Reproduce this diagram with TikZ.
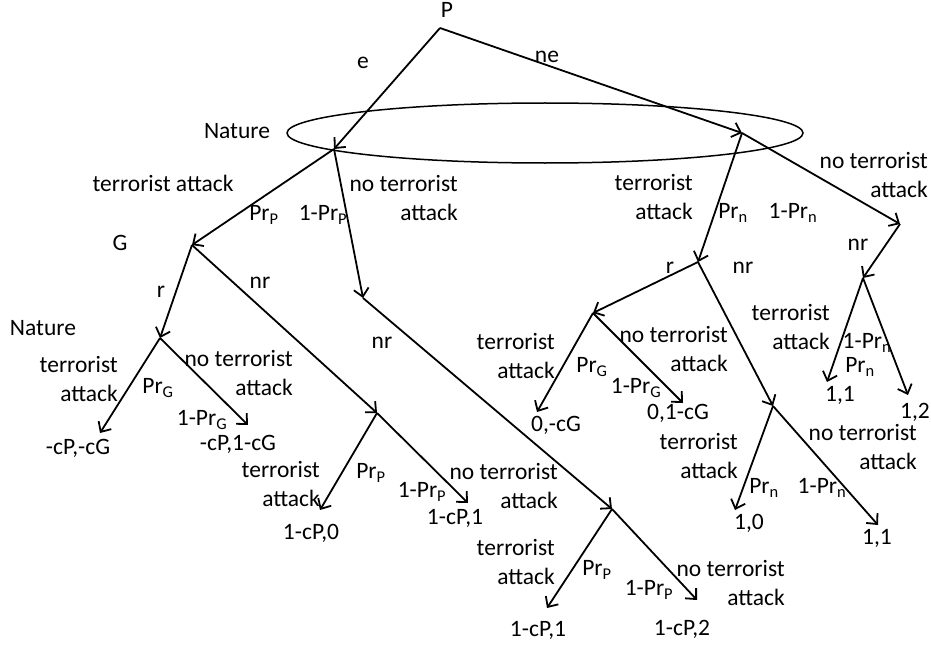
\documentclass[tikz,border=0pt]{standalone}
\usepackage{fontspec}
\setmainfont{Carlito}
\usetikzlibrary{arrows.meta,shapes.geometric}
\begin{document}
\begin{tikzpicture}[x=1pt,y=-1pt,
  edge/.style={line width=1.8pt,-{Straight Barb[length=8pt,width=15pt,line width=1.8pt]}},
  lbl/.style={inner sep=0pt,font=\fontsize{23.5}{28.5}\selectfont},
  lbltwo/.style={lbl,align=right,anchor=east},
  infoset/.style={draw,ellipse,line width=1.5pt,inner sep=0pt}]
\useasboundingbox (0,0) rectangle (931,650);
% information set
\node[infoset,minimum width=516pt,minimum height=60pt] (info) at (545,133) {};
% tree points
\coordinate (root) at (440,28);
\coordinate (nat1) at (334,149);
\coordinate (nat2) at (742,133);
\coordinate (G) at (192,245);
\coordinate (C1) at (363,298);
\coordinate (N3) at (160,338);
\coordinate (C2) at (377,413);
\coordinate (C3) at (612,509);
\coordinate (t1) at (100,433);
\coordinate (t2) at (248,425);
\coordinate (t3) at (320,510);
\coordinate (t4) at (468,503);
\coordinate (t5) at (547,608);
\coordinate (t6) at (697,600);
\coordinate (G2) at (698,262);
\coordinate (R2) at (900,224);
\coordinate (N4) at (593,313);
\coordinate (C4) at (773,406);
\coordinate (N5) at (863,278);
\coordinate (t7) at (537,412);
\coordinate (t8) at (683,403);
\coordinate (t9) at (735,510);
\coordinate (t10) at (878,525);
\coordinate (t11) at (827,382);
\coordinate (t12) at (908,395);
% edges
\draw[edge] (root) -- (nat1);
\draw[edge] (root) -- (nat2);
\draw[edge] (nat1) -- (G);
\draw[edge] (nat1) -- (C1);
\draw[edge] (G) -- (N3);
\draw[edge] (G) -- (C2);
\draw[edge] (N3) -- (t1);
\draw[edge] (N3) -- (t2);
\draw[edge] (C2) -- (t3);
\draw[edge] (C2) -- (t4);
\draw[edge] (C1) -- (C3);
\draw[edge] (C3) -- (t5);
\draw[edge] (C3) -- (t6);
\draw[edge] (nat2) -- (G2);
\draw[edge] (nat2) -- (R2);
\draw[edge] (G2) -- (N4);
\draw[edge] (G2) -- (C4);
\draw[edge] (N4) -- (t7);
\draw[edge] (N4) -- (t8);
\draw[edge] (C4) -- (t9);
\draw[edge] (C4) -- (t10);
\draw[edge] (R2) -- (N5);
\draw[edge] (N5) -- (t11);
\draw[edge] (N5) -- (t12);
% payoffs
\node[lbl] (p1) at (78,448) {-cP,-cG};
\node[lbl] (p2) at (238,444) {-cP,1-cG};
\node[lbl] (p3) at (311,533) {1-cP,0};
\node[lbl] (p4) at (455,518) {1-cP,1};
\node[lbl] (p5) at (538,630) {1-cP,1};
\node[lbl] (p6) at (682,629) {1-cP,2};
\node[lbl] (p7) at (556,425) {0,-cG};
\node[lbl] (p8) at (678,413) {0,1-cG};
\node[lbl] (p9) at (749,523) {1,0};
\node[lbl] (p10) at (877,538) {1,1};
\node[lbl] (p11) at (840,395) {1,1};
\node[lbl] (p12) at (915,412) {1,2};
% player / move labels
\node[lbl] (lP) at (447,10) {P};
\node[lbl] (le) at (363,63) {e};
\node[lbl] (lne) at (547,57) {ne};
\node[lbl] (lnat1) at (237,131) {Nature};
\node[lbl] (lta) at (163,183) {terrorist attack};
\node[lbl] (lprp1) at (264,215) {Pr\textsubscript{P}};
\node[lbl] (lnprp1) at (323,215) {1-Pr\textsubscript{P}};
\node[lbltwo] (lnta1) at (458,198) {no terrorist\\attack};
\node[lbl] (lG) at (120,243) {G};
\node[lbl] (lr1) at (161,292) {r};
\node[lbl] (lnr1) at (260,283) {nr};
\node[lbl] (lnat3) at (43,328) {Nature};
\node[lbl] (lnr2) at (382,343) {nr};
\node[lbltwo] (lta3) at (118,379) {terrorist\\attack};
\node[lbltwo] (lnta3) at (293,373) {no terrorist\\attack};
\node[lbl] (lprg1) at (158,388) {Pr\textsubscript{G}};
\node[lbl] (lnprg1) at (202,420) {1-Pr\textsubscript{G}};
\node[lbltwo] (lta2) at (320,484) {terrorist\\attack};
\node[lbltwo] (lnta2) at (558,486) {no terrorist\\attack};
\node[lbl] (lprp2) at (371,473) {Pr\textsubscript{P}};
\node[lbl] (lnprp2) at (422,492) {1-Pr\textsubscript{P}};
\node[lbltwo] (lta4) at (555,562) {terrorist\\attack};
\node[lbltwo] (lnta4) at (785,583) {no terrorist\\attack};
\node[lbl] (lprp3) at (597,570) {Pr\textsubscript{P}};
\node[lbl] (lnprp3) at (649,590) {1-Pr\textsubscript{P}};
% right subtree labels
\node[lbltwo] (lta5) at (693,197) {terrorist\\attack};
\node[lbltwo] (lnta5) at (928,175) {no terrorist\\attack};
\node[lbl] (lprn1) at (733,213) {Pr\textsubscript{n}};
\node[lbl] (lnprn1) at (793,213) {1-Pr\textsubscript{n}};
\node[lbl] (lr2) at (670,268) {r};
\node[lbl] (lnr3) at (743,268) {nr};
\node[lbl] (lnr4) at (858,245) {nr};
\node[lbltwo] (lta6) at (555,356) {terrorist\\attack};
\node[lbltwo] (lnta6) at (728,349) {no terrorist\\attack};
\node[lbl] (lprg2) at (592,367) {Pr\textsubscript{G}};
\node[lbl] (lnprg2) at (636,388) {1-Pr\textsubscript{G}};
\node[lbltwo] (lta7) at (738,456) {terrorist\\attack};
\node[lbltwo] (lnta7) at (917,447) {no terrorist\\attack};
\node[lbl] (lprn2) at (764,488) {Pr\textsubscript{n}};
\node[lbl] (lnprn2) at (822,488) {1-Pr\textsubscript{n}};
\node[lbltwo] (lta8) at (830,327) {terrorist\\attack};
\node[lbl] (lnprn3) at (867,343) {1-Pr\textsubscript{n}};
\node[lbl] (lprn3) at (860,367) {Pr\textsubscript{n}};
\end{tikzpicture}
\end{document}
